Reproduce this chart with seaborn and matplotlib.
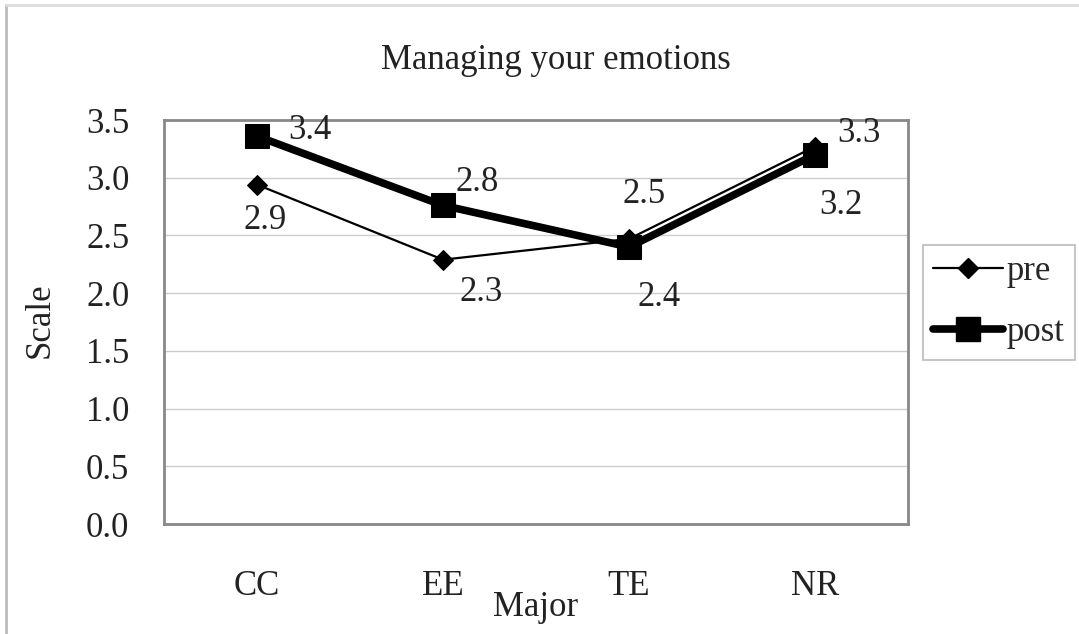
import matplotlib
matplotlib.use("Agg")
import matplotlib.pyplot as plt
import seaborn as sns
from matplotlib.lines import Line2D

majors = ["CC", "EE", "TE", "NR"]
pre = [2.94, 2.29, 2.47, 3.27]
post = [3.36, 2.76, 2.40, 3.20]
pre_labels = ["2.9", "2.3", "2.5", "3.3"]
post_labels = ["3.4", "2.8", "2.4", "3.2"]
yticks = [0.0, 0.5, 1.0, 1.5, 2.0, 2.5, 3.0, 3.5]

sns.set_style("white")
plt.rcParams["font.family"] = ["Liberation Serif", "DejaVu Serif"]
FS = 25

fig = plt.figure(figsize=(10.79, 6.34), dpi=100)
ax = fig.add_axes([0.152, 0.1735, 0.6895, 0.6372])

xs = list(range(len(majors)))
sns.lineplot(x=xs, y=pre, ax=ax, color="black", linewidth=1.6,
             marker="D", markersize=10, markeredgecolor="black")
sns.lineplot(x=xs, y=post, ax=ax, color="black", linewidth=5.5,
             marker="s", markersize=17, markeredgecolor="black")

# data labels (offsets in pixels)
pre_off = [(8, -36), (38, -33), (15, 44), (44, 13)]
post_off = [(53, 6), (34, 23), (30, -51), (26, -51)]
for x, v, lab, off in zip(xs, pre, pre_labels, pre_off):
    ax.annotate(lab, (x, v), xytext=off, textcoords="offset pixels",
                ha="center", va="center", fontsize=FS, color="#222222")
for x, v, lab, off in zip(xs, post, post_labels, post_off):
    ax.annotate(lab, (x, v), xytext=off, textcoords="offset pixels",
                ha="center", va="center", fontsize=FS, color="#222222")

ax.set_xlim(-0.5, 3.5)
ax.set_ylim(0, 3.5)
ax.set_yticks(yticks)
ax.set_yticklabels([f"{t:.1f}" for t in yticks], fontsize=FS, color="#222222")
ax.set_xticks(xs)
ax.set_xticklabels(majors, fontsize=FS, color="#222222")
ax.set_xticks([0.5, 1.5, 2.5], minor=True)
ax.tick_params(axis="x", which="major", length=0, pad=33)
ax.tick_params(axis="x", which="minor", direction="in", length=10,
               color="#c8c8c8", width=1)
ax.tick_params(axis="y", length=0, pad=25)

ax.yaxis.grid(True, color="#cccccc", linewidth=1)
ax.xaxis.grid(False)
for s in ax.spines.values():
    s.set_color("#888888")
    s.set_linewidth(2)

fig.text(556 / 1079, 1 - 69 / 634, "Managing your emotions", fontsize=FS,
         color="#222222", ha="center", va="baseline")
ax.set_xlabel("Major", fontsize=FS, color="#222222")
ax.xaxis.set_label_coords(0.5, -0.165)
ax.set_ylabel("Scale", fontsize=FS, color="#222222")
ax.yaxis.set_label_coords(-0.144, 0.505)

handles = [
    Line2D([], [], color="black", linewidth=1.6, marker="D", markersize=10),
    Line2D([], [], color="black", linewidth=5.5, marker="s", markersize=17),
]
leg = fig.legend(handles, ["pre", "post"], loc="upper left",
                 bbox_to_anchor=(923 / 1079, 1 - 245 / 634),
                 fontsize=FS, frameon=True, fancybox=False,
                 handlelength=2.0, handletextpad=0.1, borderpad=0.3,
                 labelspacing=0.8, borderaxespad=0)
leg.get_frame().set_edgecolor("#aaaaaa")
leg.get_frame().set_linewidth(1.2)

# outer chart border (top and left edges visible in the reference)
fig.add_artist(Line2D([6 / 1079, 6 / 1079], [0, 1 - 5 / 634],
                      color="#bbbbbb", linewidth=2, transform=fig.transFigure))
fig.add_artist(Line2D([6 / 1079, 1], [1 - 5 / 634, 1 - 5 / 634],
                      color="#dddddd", linewidth=2, transform=fig.transFigure))

fig.savefig("out.png", dpi=100)
